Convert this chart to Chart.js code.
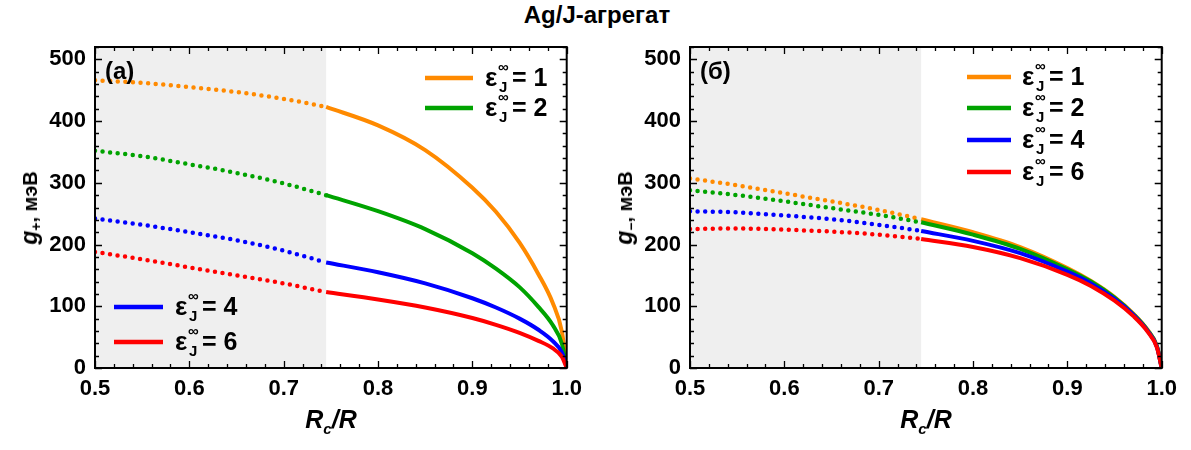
<!DOCTYPE html>
<html>
<head>
<meta charset="utf-8">
<script src="https://cdn.jsdelivr.net/npm/chart.js@4.4.1/dist/chart.umd.min.js"></script>
<style>
  body { margin: 0; background: #fff; font-family: 'Liberation Sans', Arial, sans-serif; }
  #wrap { position: relative; width: 1191px; height: 450px; overflow: hidden; }
  canvas { position: absolute; top: 0; }
  .lbl { position: absolute; font-weight: bold; color: #000; white-space: nowrap; }
  #title { left: 0; width: 1194px; top: 1px; text-align: center; font-size: 24px; }
  .ytitle { font-size: 20px; transform: translate(-50%, -50%) rotate(-90deg); }
  .ytitle i { font-size: 23px; }
  .xtitle { font-size: 25px; font-style: italic; transform: translateX(-50%); top: 405px; }
  .xtitle sub { font-size: 15px; vertical-align: -6px; }
  .ytitle sub { font-size: 14px; vertical-align: -4px; }
</style>
</head>
<body>
<div id="wrap">
  <div id="title" class="lbl">Ag/J-агрегат</div>
  <canvas id="plusChart" width="590" height="450" style="left:0"></canvas>
  <canvas id="minusChart" width="590" height="450" style="left:595px"></canvas>
  <div class="lbl ytitle" style="left:30px; top:208px"><i>g</i><sub>+</sub>, мэВ</div>
  <div class="lbl ytitle" style="left:625px; top:208px"><i>g</i><sub>−</sub>, мэВ</div>
  <div class="lbl xtitle" style="left:331px"><i>R</i><sub>c</sub>/<i>R</i></div>
  <div class="lbl xtitle" style="left:926px"><i>R</i><sub>c</sub>/<i>R</i></div>
</div>
<script>
// Data
const xGrid = [0.5, 0.55, 0.6, 0.65, 0.7, 0.745, 0.8, 0.85, 0.9, 0.925, 0.95, 0.97, 0.985, 0.995, 1.0];
const shadeEnd = 0.745;
const epsValues = [1, 2, 4, 6];
const xTickValues = [0.5, 0.6, 0.7, 0.8, 0.9, 1.0];
const yTickValues = [0, 100, 200, 300, 400, 500];

// (a) g+
const gPlus1 = [466, 462, 455, 447, 436, 423, 393, 353, 292, 253, 203, 152, 106, 58, 0];
const gPlus2 = [352, 343, 330, 316, 299, 280, 254, 225, 186, 161, 131, 99, 70, 39, 0];
const gPlus4 = [242, 232, 220, 207, 190, 171, 155, 137, 113, 98, 80, 62, 44, 25, 0];
const gPlus6 = [188, 176, 163, 150, 137, 123, 111, 98, 81, 70, 57, 44, 32, 18, 0];

// (б) g-
const gMinus1 = [307, 296, 283, 270, 256, 241, 220, 196, 162, 141, 115, 88, 62, 35, 0];
const gMinus2 = [288, 280, 270, 259, 248, 236, 216, 193, 160, 140, 114, 87, 61, 35, 0];
const gMinus4 = [254, 252, 247, 241, 232, 222, 206, 186, 156, 137, 112, 86, 60, 34, 0];
const gMinus6 = [225, 226, 224, 221, 216, 209, 196, 178, 151, 133, 109, 84, 59, 33, 0];

const COLORS = ['#ff8a00', '#00a300', '#0000ff', '#ff0000'];
const FONT = "'Liberation Sans', Arial, sans-serif";

function buildDatasets(seriesList) {
    const sets = [];
    seriesList.forEach((vals, i) => {
        const pts = xGrid.map((x, k) => ({ x: x, y: vals[k] }));
        sets.push({
            label: 'eps' + epsValues[i] + ' dotted',
            data: pts.filter(p => p.x <= shadeEnd),
            borderColor: COLORS[i],
            borderWidth: 4.5,
            borderDash: [0, 7.6],
            borderCapStyle: 'round',
            pointRadius: 0,
            cubicInterpolationMode: 'monotone',
            order: 10 - i
        });
        sets.push({
            label: 'eps' + epsValues[i],
            data: pts.filter(p => p.x >= shadeEnd),
            borderColor: COLORS[i],
            borderWidth: 4,
            pointRadius: 0,
            cubicInterpolationMode: 'monotone',
            order: 5 - i
        });
    });
    return sets;
}

// gray band + framed axes with inward ticks
const frameTicks = {
    id: 'frameTicks',
    beforeDatasetsDraw(chart) {
        const { ctx, chartArea: a, scales: { x } } = chart;
        ctx.save();
        ctx.fillStyle = '#efefef';
        ctx.fillRect(a.left, a.top, x.getPixelForValue(shadeEnd) - a.left, a.bottom - a.top);
        ctx.restore();
    },
    afterDatasetsDraw(chart) {
        const { ctx, chartArea: a, scales: { x, y } } = chart;
        ctx.save();
        ctx.strokeStyle = '#000';
        ctx.lineWidth = 1.3;
        for (let k = 0; k <= 25; k++) {
            const v = 0.5 + k * 0.02;
            const px = Math.round(x.getPixelForValue(v)) + 0.5;
            const len = k % 5 === 0 ? 7 : 4;
            ctx.beginPath();
            ctx.moveTo(px, a.bottom); ctx.lineTo(px, a.bottom - len);
            ctx.moveTo(px, a.top); ctx.lineTo(px, a.top + len);
            ctx.stroke();
        }
        for (let v = 0; v <= 520; v += 20) {
            const py = Math.round(y.getPixelForValue(v)) + 0.5;
            const len = v % 100 === 0 ? 7 : 4;
            ctx.beginPath();
            ctx.moveTo(a.left, py); ctx.lineTo(a.left + len, py);
            ctx.moveTo(a.right, py); ctx.lineTo(a.right - len, py);
            ctx.stroke();
        }
        ctx.lineWidth = 2;
        ctx.strokeRect(a.left, a.top, a.right - a.left, a.bottom - a.top);
        ctx.restore();
    }
};

// legend entries: eps_J^inf = n
const epsLegend = {
    id: 'epsLegend',
    afterDraw(chart, args, opts) {
        const { ctx } = chart;
        ctx.save();
        opts.entries.forEach(e => {
            const i = epsValues.indexOf(e.eps);
            ctx.strokeStyle = COLORS[i];
            ctx.lineWidth = 4.5;
            ctx.beginPath();
            ctx.moveTo(e.x0, e.y); ctx.lineTo(e.x1, e.y);
            ctx.stroke();
            ctx.fillStyle = '#000';
            ctx.textBaseline = 'middle';
            ctx.textAlign = 'left';
            ctx.font = 'bold 26px ' + FONT;
            ctx.fillText('ε', e.tx, e.y + 1);
            ctx.font = 'bold 15px ' + FONT;
            ctx.fillText('∞', e.tx + 13, e.y - 10);
            ctx.fillText('J', e.tx + 14, e.y + 10);
            ctx.font = 'bold 25px ' + FONT;
            ctx.fillText('= ' + e.eps, e.tx + 27, e.y + 1);
        });
        ctx.font = 'bold 24px ' + FONT;
        ctx.textBaseline = 'middle';
        ctx.fillText(opts.panel, chart.chartArea.left + 10, 72);
        ctx.restore();
    }
};

function makePanel(id, seriesList, panelLabel, entries) {
    return new Chart(document.getElementById(id), {
        type: 'line',
        data: { datasets: buildDatasets(seriesList) },
        plugins: [frameTicks, epsLegend],
        options: {
            responsive: false,
            animation: false,
            layout: { padding: { top: 47, right: 23, left: 0, bottom: 0 } },
            plugins: {
                legend: { display: false },
                tooltip: { enabled: false },
                epsLegend: { panel: panelLabel, entries: entries }
            },
            scales: {
                x: {
                    type: 'linear', min: 0.5, max: 1.0,
                    afterBuildTicks: s => { s.ticks = xTickValues.map(v => ({ value: v })); },
                    afterFit: s => { s.height = 82; },
                    grid: { display: false, drawTicks: false },
                    border: { display: false },
                    ticks: {
                        padding: 8, color: '#000', maxRotation: 0,
                        font: { family: FONT, size: 22, weight: 'bold' },
                        callback: v => v.toFixed(1)
                    }
                },
                y: {
                    type: 'linear', min: 0, max: 520,
                    afterBuildTicks: s => { s.ticks = yTickValues.map(v => ({ value: v })); },
                    afterFit: s => { s.width = 95; },
                    grid: { display: false, drawTicks: false },
                    border: { display: false },
                    ticks: {
                        padding: 9, color: '#000',
                        font: { family: FONT, size: 22, weight: 'bold' },
                        callback: v => String(v)
                    }
                }
            }
        }
    });
}

makePanel('plusChart', [gPlus1, gPlus2, gPlus4, gPlus6], '(a)', [
    { eps: 1, x0: 425, x1: 473, y: 78, tx: 485 },
    { eps: 2, x0: 425, x1: 473, y: 108, tx: 485 },
    { eps: 4, x0: 114, x1: 163, y: 307, tx: 175 },
    { eps: 6, x0: 114, x1: 163, y: 342, tx: 175 }
]);
makePanel('minusChart', [gMinus1, gMinus2, gMinus4, gMinus6], '(б)', [
    { eps: 1, x0: 372, x1: 416, y: 77, tx: 427 },
    { eps: 2, x0: 372, x1: 416, y: 108, tx: 427 },
    { eps: 4, x0: 372, x1: 416, y: 140, tx: 427 },
    { eps: 6, x0: 372, x1: 416, y: 172, tx: 427 }
]);
</script>
</body>
</html>
